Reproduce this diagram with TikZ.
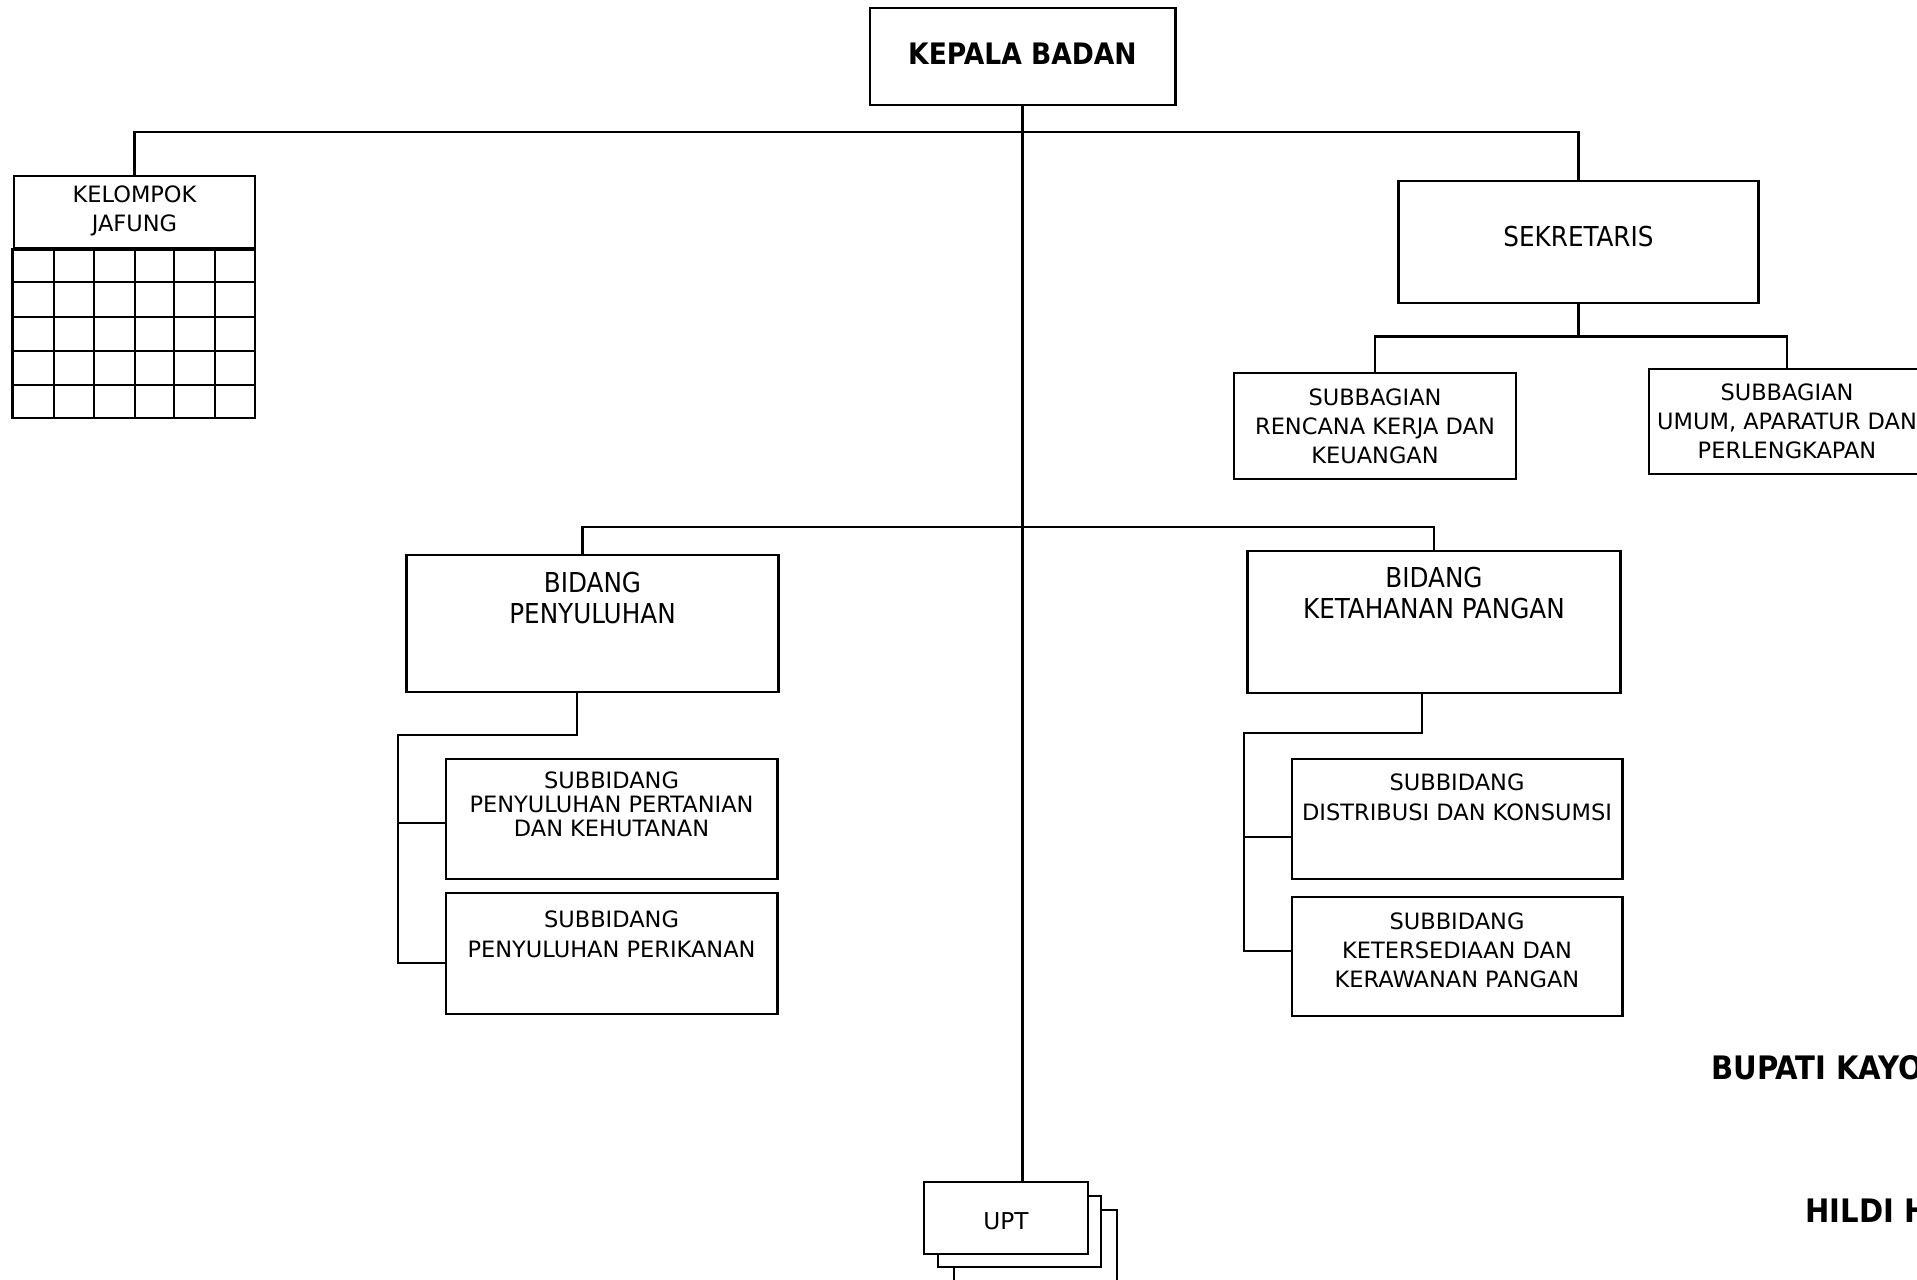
\documentclass[tikz,border=0pt]{standalone}
\usepackage{fontspec}
\setmainfont{DejaVu Sans Condensed}
\newfontfamily\boxfont{DejaVu Sans}
\usepackage{tikz}

\tikzset{
  orgbox/.style={draw, fill=white, inner sep=0pt},
  toplabel/.style={anchor=north, inner sep=0pt, align=center},
  bigfont/.style={font=\fontsize{7.8}{8.8}\selectfont},
  smallfont/.style={font=\boxfont\fontsize{6.4}{8.25}\selectfont}
}

\begin{document}
\begin{tikzpicture}[x=0.01cm, y=-0.01cm, line width=0.8pt]
\useasboundingbox (0,0) rectangle (1917,1280);
\clip (0,0) rectangle (1917,1280);

% kepala
\node[orgbox, minimum width=3.05cm, minimum height=0.97cm, text depth=1.4pt, font=\bfseries\fontsize{8.4}{9}\selectfont] (kepala) at (1022.5,56.5) {KEPALA BADAN};

% kelompok jafung with its grid
\node[orgbox, smallfont, align=center, minimum width=2.41cm, minimum height=0.72cm, text depth=2pt] (jafung) at (134.5,212) {KELOMPOK\\JAFUNG};
\draw (jafung.south west) rectangle (255,418);
\draw (54,248) -- (54,418);
\draw (94,248) -- (94,418);
\draw (135,248) -- (135,418);
\draw (174,248) -- (174,418);
\draw (215,248) -- (215,418);
\draw (14,282) -- (255,282);
\draw (14,317) -- (255,317);
\draw (14,351) -- (255,351);
\draw (14,385) -- (255,385);

% sekretariat
\node[orgbox, bigfont, minimum width=3.59cm, minimum height=1.22cm, text depth=3.4pt] (sekretaris) at (1578.5,242) {SEKRETARIS};
\node[orgbox, smallfont, align=center, minimum width=2.82cm, minimum height=1.06cm] (sub1) at (1375,426) {SUBBAGIAN\\RENCANA KERJA DAN\\KEUANGAN};
\node[orgbox, smallfont, align=center, minimum width=2.76cm, minimum height=1.05cm] (sub2) at (1787,421.5) {SUBBAGIAN\\UMUM, APARATUR DAN\\PERLENGKAPAN};

% bidang
\node[orgbox, minimum width=3.71cm, minimum height=1.37cm,
  label={[toplabel, bigfont, yshift=-0.17cm]north:{BIDANG\\PENYULUHAN}}] (bid1) at (592.5,623.5) {};
\node[orgbox, minimum width=3.72cm, minimum height=1.42cm,
  label={[toplabel, bigfont, yshift=-0.16cm]north:{BIDANG\\KETAHANAN PANGAN}}] (bid2) at (1434,622) {};

% subbidang
\node[orgbox, minimum width=3.31cm, minimum height=1.20cm,
  label={[toplabel, font=\boxfont\fontsize{6.4}{6.8}\selectfont, yshift=-0.13cm]north:{SUBBIDANG\\PENYULUHAN PERTANIAN\\DAN KEHUTANAN}}] (sb1a) at (611.5,819) {};
\node[orgbox, minimum width=3.31cm, minimum height=1.21cm,
  label={[toplabel, font=\boxfont\fontsize{6.4}{8.5}\selectfont, yshift=-0.18cm]north:{SUBBIDANG\\PENYULUHAN PERIKANAN}}] (sb1b) at (611.5,953.5) {};
\node[orgbox, minimum width=3.30cm, minimum height=1.20cm,
  label={[toplabel, font=\boxfont\fontsize{6.4}{8.5}\selectfont, yshift=-0.15cm]north:{SUBBIDANG\\DISTRIBUSI DAN KONSUMSI}}] (sb2a) at (1457,819) {};
\node[orgbox, minimum width=3.30cm, minimum height=1.19cm,
  label={[toplabel, smallfont, yshift=-0.16cm]north:{SUBBIDANG\\KETERSEDIAAN DAN\\KERAWANAN PANGAN}}] (sb2b) at (1457,956.5) {};

% upt (stacked)
\node[orgbox, minimum width=1.63cm, minimum height=0.72cm] (upt3) at (1035.5,1246) {};
\node[orgbox, minimum width=1.63cm, minimum height=0.71cm] (upt2) at (1019.5,1231.5) {};
\node[orgbox, minimum width=1.64cm, minimum height=0.72cm, text height=6.9pt, font=\boxfont\fontsize{6.6}{8}\selectfont] (upt) at (1006,1218) {UPT};

% signature
\node[anchor=west, inner sep=0pt, font=\bfseries\fontsize{9.2}{11}\selectfont] (bupati) at (1710,1068) {BUPATI KAYONG UTARA};
\node[anchor=west, inner sep=0pt, font=\bfseries\fontsize{9.2}{11}\selectfont] (nama) at (1804,1211) {HILDI HAMID};

% connectors
\coordinate (topbus) at (1022,132);
\coordinate (midbus) at (1022,527);
\coordinate (bus1) at (398,735);
\coordinate (bus2) at (1244,733);
\draw (kepala.south) -- (kepala.south |- upt.north);
\draw (jafung.north) |- (topbus) -| (sekretaris.north);
\draw (sekretaris.south) -- ++(0,32) coordinate (sekbus);
\draw (sub1.north) |- (sekbus) -| (sub2.north);
\draw ([xshift=-1mm]bid1.north) |- (midbus) -| (bid2.north);
\draw ([xshift=-1.55mm]bid1.south) |- (bus1) |- ([yshift=-0.95mm]sb1b.west);
\draw ([yshift=-0.4mm]sb1a.west) -| (bus1);
\draw ([xshift=-1.2mm]bid2.south) |- (bus2) |- ([yshift=0.55mm]sb2b.west);
\draw ([yshift=-1.8mm]sb2a.west) -| (bus2);
\end{tikzpicture}
\end{document}
